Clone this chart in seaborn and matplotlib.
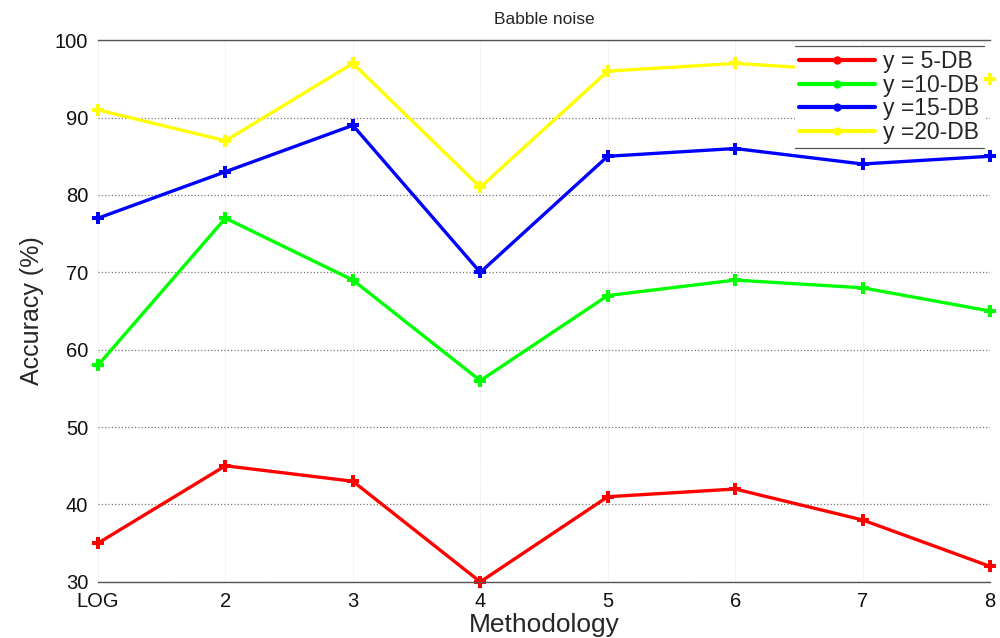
import matplotlib
matplotlib.use("Agg")
import matplotlib.pyplot as plt
from matplotlib.lines import Line2D
import seaborn as sns
import pandas as pd

# Accuracy (%) per methodology for each noise level
methods = ["LOG", "2", "3", "4", "5", "6", "7", "8"]
acc_5db = [35, 45, 43, 30, 41, 42, 38, 32]
acc_10db = [58, 77, 69, 56, 67, 69, 68, 65]
acc_15db = [77, 83, 89, 70, 85, 86, 84, 85]
acc_20db = [91, 87, 97, 81, 96, 97, 96, 95]
series_names = ["y = 5-DB", "y =10-DB", "y =15-DB", "y =20-DB"]
series_colors = ["#ff0000", "#00ff00", "#0000ff", "#ffff00"]

rows = []
for name, vals in zip(series_names, [acc_5db, acc_10db, acc_15db, acc_20db]):
    for i, v in enumerate(vals):
        rows.append({"pos": i, "Accuracy": v, "series": name})
df = pd.DataFrame(rows)

sns.set_theme(style="white")
plt.rcParams["font.family"] = ["Liberation Sans", "DejaVu Sans"]

fig = plt.figure(figsize=(10, 6.38), dpi=100)
ax = fig.add_axes([0.098, 0.088, 0.892, 0.849])

sns.lineplot(data=df, x="pos", y="Accuracy", hue="series",
             palette=series_colors, hue_order=series_names,
             marker="P", markersize=9, markeredgewidth=0,
             linewidth=2.4, ax=ax, legend=True)
for line in ax.lines:
    line.set_clip_on(False)

ax.set_xlim(0, len(methods) - 1)
ax.set_ylim(30, 100)
ax.set_xticks(range(len(methods)))
ax.set_xticklabels(methods)
ax.set_yticks(range(30, 101, 10))
ax.tick_params(axis="both", labelsize=14.5, length=0, colors="#111111")
ax.tick_params(axis="x", pad=7)
ax.tick_params(axis="y", pad=7)

ax.yaxis.grid(True, linestyle=":", color="#777777", linewidth=0.9)
ax.xaxis.grid(True, linestyle=":", color="#e2e2e2", linewidth=0.7)
ax.set_axisbelow(True)

for side in ["left", "right"]:
    ax.spines[side].set_visible(False)
for side in ["top", "bottom"]:
    ax.spines[side].set_color("#555555")
    ax.spines[side].set_linewidth(1.0)

ax.set_title("Babble noise", fontsize=12.5, pad=12)
ax.set_xlabel("Methodology", fontsize=19, labelpad=2)
ax.set_ylabel("Accuracy (%)", fontsize=18, labelpad=8)

leg = ax.legend(loc="upper right", bbox_to_anchor=(0.993, 0.99), fontsize=16.5,
                frameon=True, fancybox=False, borderpad=0.2,
                labelspacing=0.02, handlelength=3.3, handletextpad=0.35,
                borderaxespad=0.0)
frame = leg.get_frame()
frame.set_edgecolor("none")
frame.set_facecolor("white")
frame.set_alpha(1.0)
for h in leg.legend_handles:
    h.set_linewidth(3)
    h.set_marker("o")
    h.set_markersize(6)

# Legend box outlined only along its top and bottom edges
fig.canvas.draw()
bb = leg.get_window_extent().transformed(fig.transFigure.inverted())
for yy in (bb.y0, bb.y1):
    fig.add_artist(Line2D([bb.x0, bb.x1], [yy, yy], color="#555555",
                          linewidth=0.9, transform=fig.transFigure))

fig.savefig("out.png", dpi=100)
